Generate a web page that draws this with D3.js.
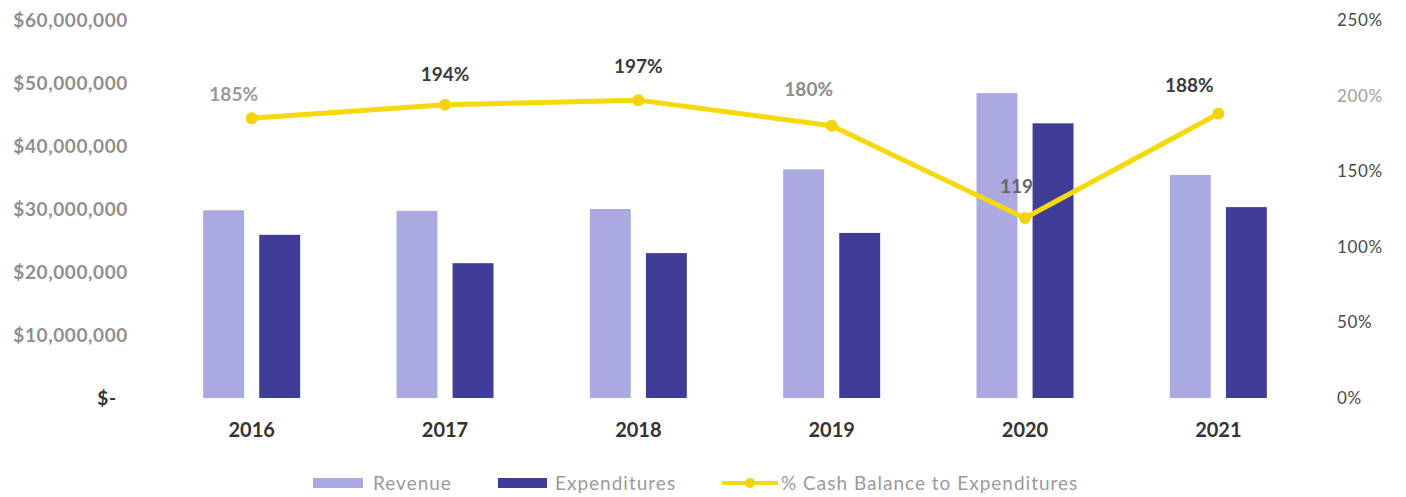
<!DOCTYPE html>
<html>
<head>
<meta charset="utf-8">
<script src="https://cdn.jsdelivr.net/npm/d3@7"></script>
<style>
  body { margin: 0; background: #fff; }
  svg text { font-family: Lato, "Open Sans", sans-serif; }
</style>
</head>
<body>
<div class="container"></div>
<script>
const years = ["2016", "2017", "2018", "2019", "2020", "2021"]
const revenue = [29800000, 29700000, 30000000, 36300000, 48400000, 35400000]
const expenditures = [25900000, 21400000, 23000000, 26200000, 43600000, 30300000]
const cashPct = [185, 194, 197, 180, 119, 188]
const pctLabels = ["185%", "194%", "197%", "180%", "119%", "188%"]
const leftTicks = [0, 10000000, 20000000, 30000000, 40000000, 50000000, 60000000]
const rightTicks = [0, 50, 100, 150, 200, 250]

const w = 1406
const h = 497
const plotTop = 20
const plotBottom = 398

const svg = d3.select(".container").append("svg")
  .attr("width", w)
  .attr("height", h)

const xScale = d3.scaleBand().domain(years).range([155, 1315])
const xSub = d3.scaleBand().domain(["rev", "exp"]).range([0, 97]).paddingInner(0.27)
const yScale = d3.scaleLinear().domain([0, 60000000]).range([plotBottom, plotTop])
const yRight = d3.scaleLinear().domain([0, 250]).range([plotBottom, plotTop])
const cx = (i) => xScale(years[i]) + xScale.bandwidth() / 2
const groupX = (d) => xScale(d) + (xScale.bandwidth() - 97) / 2

const fmtMoney = d => d === 0 ? "$-" : "$" + d3.format(",")(d)

// left axis
const leftAxis = d3.axisLeft(yScale).tickValues(leftTicks).tickFormat(fmtMoney).tickSize(0).tickPadding(0)
const gl = svg.append("g").attr("transform", "translate(128,0)").call(leftAxis)
gl.select(".domain").remove()
gl.selectAll("text")
  .attr("font-size", 19).attr("font-weight", 700)
  .style("letter-spacing", "0.6px")
  .attr("fill", d => d === 0 ? "#333" : "#8f8f8f")
  .attr("text-anchor", d => d === 0 ? "middle" : "end")
  .attr("x", d => d === 0 ? -21 : 0)

// right axis
const rightAxis = d3.axisRight(yRight).tickValues(rightTicks).tickFormat(d => d + "%").tickSize(0).tickPadding(0)
const gr = svg.append("g").attr("transform", "translate(1337,0)").call(rightAxis)
gr.select(".domain").remove()
gr.selectAll("text")
  .attr("font-size", 17).attr("font-weight", 400)
  .style("letter-spacing", "0.6px")
  .attr("fill", d => d === 200 ? "#a0a0a0" : "#4a4a4a")

// x axis labels
svg.append("g").selectAll("text")
  .data(years)
  .enter()
  .append("text")
  .attr("x", d => xScale(d) + xScale.bandwidth() / 2)
  .attr("y", 437)
  .attr("text-anchor", "middle")
  .attr("font-size", 20).attr("font-weight", 700)
  .attr("fill", "#333")
  .text(d => d)

// revenue bars
svg.append("g").selectAll("rect")
  .data(years)
  .enter()
  .append("rect")
  .attr("x", d => groupX(d) + xSub("rev"))
  .attr("width", xSub.bandwidth())
  .attr("y", (d, i) => yScale(revenue[i]))
  .attr("height", (d, i) => plotBottom - yScale(revenue[i]))
  .attr("fill", "#aba9e2")

// data labels sit under the expenditure bars (the 2020 one gets cut off)
const labelDx = [-18, 0, 0, -23, -25, -29]
const labelDy = [-17, -24, -27, -30, -25, -22]
const labelAnchor = ["middle", "middle", "middle", "middle", "start", "middle"]
const labelColor = ["#9a9a9a", "#3a3a3a", "#3a3a3a", "#8c8c8c", "#666", "#3a3a3a"]
svg.append("g").selectAll("text")
  .data(cashPct)
  .enter()
  .append("text")
  .attr("x", (d, i) => cx(i) + labelDx[i])
  .attr("y", (d, i) => yRight(d) + labelDy[i])
  .attr("text-anchor", (d, i) => labelAnchor[i])
  .attr("font-size", 19).attr("font-weight", 700)
  .attr("fill", (d, i) => labelColor[i])
  .text((d, i) => pctLabels[i])

// expenditure bars
svg.append("g").selectAll("rect")
  .data(years)
  .enter()
  .append("rect")
  .attr("x", d => groupX(d) + xSub("exp"))
  .attr("width", xSub.bandwidth())
  .attr("y", (d, i) => yScale(expenditures[i]))
  .attr("height", (d, i) => plotBottom - yScale(expenditures[i]))
  .attr("fill", "#403d98")

// cash balance line
const line = d3.line()
  .x((d, i) => cx(i))
  .y(d => yRight(d))

svg.append("path")
  .datum(cashPct)
  .attr("d", line)
  .attr("fill", "none")
  .attr("stroke", "#f6d90a")
  .attr("stroke-width", 5)
  .attr("stroke-linejoin", "round")

svg.append("g").selectAll("circle")
  .data(cashPct)
  .enter()
  .append("circle")
  .attr("cx", (d, i) => cx(i))
  .attr("cy", d => yRight(d))
  .attr("r", 6)
  .attr("fill", "#f4d20c")

// legend
const legend = svg.append("g").attr("transform", "translate(0,483)")
const legText = (x, t) => legend.append("text").attr("x", x).attr("y", 7)
  .attr("font-size", 19).attr("fill", "#9a9a9a").style("letter-spacing", "1px").text(t)
legend.append("rect").attr("x", 313).attr("y", -5).attr("width", 50).attr("height", 10).attr("fill", "#aba9e2")
legText(373, "Revenue")
legend.append("rect").attr("x", 498).attr("y", -5).attr("width", 49).attr("height", 10).attr("fill", "#403d98")
legText(555, "Expenditures")
legend.append("line").attr("x1", 722).attr("x2", 778).attr("y1", 0).attr("y2", 0).attr("stroke", "#f6d90a").attr("stroke-width", 4)
legend.append("circle").attr("cx", 750).attr("cy", 0).attr("r", 5).attr("fill", "#f4d20c")
legText(781, "% Cash Balance to Expenditures")
</script>
</body>
</html>
